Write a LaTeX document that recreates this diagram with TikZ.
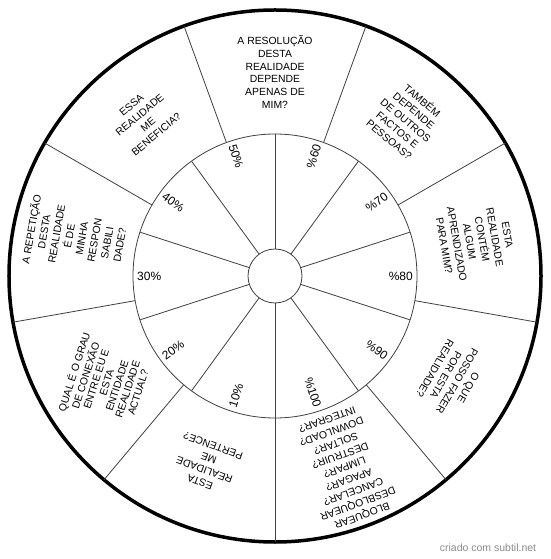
\documentclass[tikz,border=0pt]{standalone}
\usepackage{fontspec}
\setmainfont{Liberation Sans}
\begin{document}
\begin{tikzpicture}[x=1pt,y=1pt,
  outertext/.style={align=center, font=\fontsize{10.4}{12.8}\selectfont, inner sep=0pt},
  tighttext/.style={align=center, font=\fontsize{10.4}{11}\selectfont, inner sep=0pt},
  pct/.style={font=\fontsize{12}{14}\selectfont, inner sep=0pt},
  divider/.style={line width=0.8pt, draw=black!75},
  rim/.style={line width=3.5pt, draw=black},
  watermark/.style={font=\fontsize{10.5}{12}\selectfont, text=black!45, inner sep=0pt}]
\useasboundingbox (-275,-283) rectangle (275,276);
\fill[white] (-275,-283) rectangle (275,276);
% circles
\draw[divider] (0,0) circle (142);
\draw[divider] (0,0) circle (27);
\draw[rim] (0,0) circle (266);
% outer ring dividers (9 sectors)
\foreach \a in {110,70,30,-10,-50,-90,-130,-170,150}
  \draw[divider] (\a:142) -- (\a:266);
% inner ring dividers (10 sectors)
\foreach \a in {90,54,18,-18,-54,-90,-126,-162,162,126}
  \draw[divider] (\a:27) -- (\a:142);
% inner labels, right half
\node[pct, rotate=72, anchor=east] (p60) at (72:138) {\%60};
\node[pct, rotate=36, anchor=east] (p70) at (36:138) {\%70};
\node[pct, rotate=0, anchor=east] (p80) at (0:138) {\%80};
\node[pct, rotate=-36, anchor=east] (p90) at (-36:138) {\%90};
\node[pct, rotate=-72, anchor=east] (p100) at (-72:138) {\%100};
% inner labels, left half
\node[pct, rotate=-72, anchor=west] (p50) at (108:138) {50\%};
\node[pct, rotate=-36, anchor=west] (p40) at (144:138) {40\%};
\node[pct, rotate=0, anchor=west] (p30) at (180:138) {30\%};
\node[pct, rotate=36, anchor=west] (p20) at (216:138) {20\%};
\node[pct, rotate=72, anchor=west] (p10) at (252:138) {10\%};
% outer texts
\node[outertext, rotate=0] (q1) at (90:204)
  {A RESOLUÇÃO\\DESTA\\REALIDADE\\DEPENDE\\APENAS DE\\MIM?};
\node[outertext, rotate=-40] (q2) at (50:204)
  {TAMBÉM\\DEPENDE\\DE OUTROS\\FACTOS E\\PESSOAS?};
\node[outertext, rotate=-80] (q3) at (10:204)
  {ESTA\\REALIDADE\\CONTÉM\\ALGUM\\APRENDIZADO\\PARA MIM?};
\node[outertext, rotate=-120] (q4) at (-30:204)
  {O QUE\\POSSO FAZER\\POR ESTA\\REALIDADE?};
\node[outertext, rotate=-160] (q5) at (-70:204)
  {BLOQUEAR\\DESBLOQUEAR\\CANCELAR?\\APAGAR?\\LIMPAR?\\DESTRUIR?\\SOLTAR?\\DOWNLOAD?\\INTEGRAR?};
\node[outertext, rotate=160] (q6) at (-110:200)
  {ESTA\\REALIDADE\\ME\\PERTENCE?};
\node[tighttext, rotate=72] (q7) at (-148:200)
  {QUAL É O GRAU\\DE CONEXÃO\\ENTRE EU E\\ESTA\\ENTIDADE\\REALIDADE\\ACTUAL?};
\node[outertext, rotate=80] (q8) at (169:204)
  {A REPETIÇÃO\\DESTA\\REALIDADE\\É DE\\MINHA\\RESPON\\SABILI\\DADE?};
\node[outertext, rotate=40] (q9) at (130:204)
  {ESSA\\REALIDADE\\ME\\BENEFICIA?};
% watermark
\node[watermark] (wm) at (213,-272) {criado com subtil.net};
\end{tikzpicture}
\end{document}
